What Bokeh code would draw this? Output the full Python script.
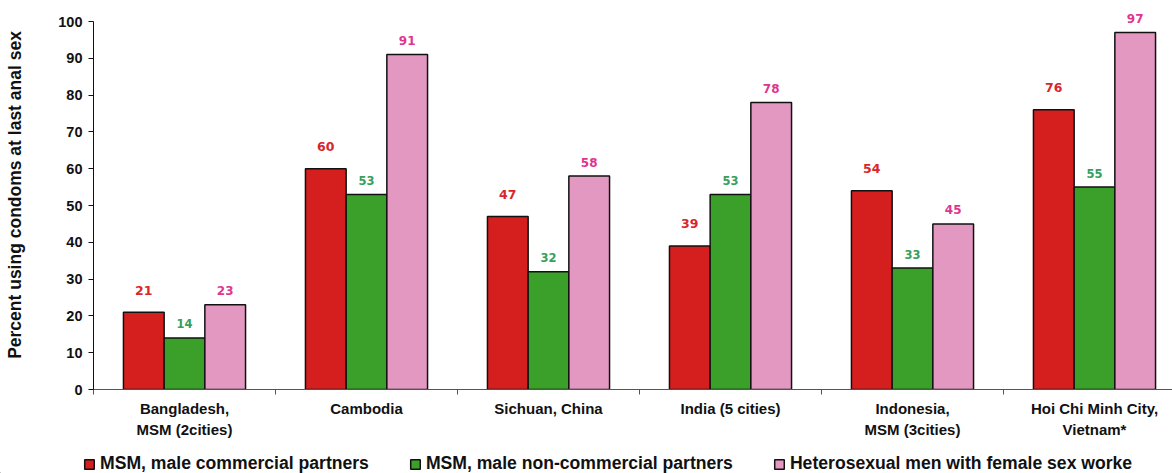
from bokeh.plotting import figure
from bokeh.layouts import column
from bokeh.models import Range1d, FixedTicker, Legend, LegendItem, ColumnDataSource
from bokeh.core.properties import value
from bokeh.embed import file_html
from bokeh.resources import INLINE

# Survey sites and condom-use percentages by partner type
categories = [
    "Bangladesh,\nMSM (2cities)",
    "Cambodia",
    "Sichuan, China",
    "India (5 cities)",
    "Indonesia,\nMSM (3cities)",
    "Hoi Chi Minh City,\nVietnam*",
]
msm_commercial = [21, 60, 47, 39, 54, 76]
msm_noncommercial = [14, 53, 32, 53, 33, 55]
hetero_fsw = [23, 91, 58, 78, 45, 97]
series_names = [
    "MSM, male commercial partners",
    "MSM, male non-commercial partners",
    "Heterosexual men with female sex worke",
]
y_ticks = [0, 10, 20, 30, 40, 50, 60, 70, 80, 90, 100]

fill_colors = ["#d51f1e", "#3aa02a", "#e298c0"]
label_colors = ["#d8262a", "#36a05c", "#df3590"]
label_sizes = ["12.5px", "11.5px", "12px"]
label_offsets = [-22, -14, -14]

W = 1172
chart_h, legend_h = 448, 25
left = 93
frame_bottom = 389
px_per_unit = 368 / 100.0
cat_px = 182.0
x_end = (W - left) / cat_px
y_end = 100 + 21 / px_per_unit

p = figure(
    width=W, height=chart_h, output_backend="svg", toolbar_location=None,
    x_range=Range1d(0, x_end), y_range=Range1d(0, y_end),
    min_border_left=left, min_border_right=0,
    min_border_top=0, min_border_bottom=chart_h - frame_bottom,
)
p.frame_align = False
p.outline_line_color = None
p.xgrid.visible = False
p.ygrid.visible = False
p.background_fill_color = "white"
p.border_fill_color = "white"

bar_w = 40.7 / cat_px
offsets = [-bar_w, 0.0, bar_w]
centers = [i + 0.5 for i in range(len(categories))]

for k, vals in enumerate([msm_commercial, msm_noncommercial, hetero_fsw]):
    src = ColumnDataSource(dict(
        x=[c + offsets[k] for c in centers],
        top=vals,
        lab=[str(v) for v in vals],
    ))
    p.vbar(x="x", top="top", bottom=0, width=bar_w, source=src,
           fill_color=fill_colors[k], line_color="#111111", line_width=1.5)
    p.text(x="x", y="top", text="lab", source=src, y_offset=label_offsets[k],
           text_align="center", text_baseline="middle",
           text_font=value("DejaVu Sans"), text_font_style="bold",
           text_font_size=label_sizes[k], text_color=label_colors[k])

# y axis
yax = p.yaxis[0]
yax.ticker = FixedTicker(ticks=y_ticks)
yax.bounds = (0, 100)
yax.minor_tick_line_color = None
yax.major_tick_in = 0
yax.major_tick_out = 5
yax.major_label_standoff = 6
yax.major_label_text_font = "Liberation Sans"
yax.major_label_text_font_style = "bold"
yax.major_label_text_font_size = "14.5px"
yax.major_label_text_color = "#111111"
yax.axis_line_color = "#111111"
yax.major_tick_line_color = "#111111"
yax.axis_label = "Percent using condoms at last anal sex"
yax.axis_label_text_font = "Liberation Sans"
yax.axis_label_text_font_style = "bold"
yax.axis_label_text_font_size = "17.5px"
yax.axis_label_text_color = "#111111"
yax.axis_label_standoff = 30

# x axis: labels centred on groups, separator ticks between groups
xax = p.xaxis[0]
xax.ticker = FixedTicker(ticks=centers, minor_ticks=list(range(len(categories) + 1)))
xax.major_label_overrides = {c: name for c, name in zip(centers, categories)}
xax.major_tick_line_color = None
xax.minor_tick_in = 0
xax.minor_tick_out = 5
xax.minor_tick_line_color = "#555555"
xax.axis_line_color = "#555555"
xax.major_label_standoff = 4
xax.major_label_text_font = "Liberation Sans"
xax.major_label_text_font_style = "bold"
xax.major_label_text_font_size = "15px"
xax.major_label_text_color = "#111111"
xax.major_label_text_line_height = 1.27

# legend strip underneath the chart; swatch renderers sit outside its view
lg = figure(
    width=W, height=legend_h, output_backend="svg", toolbar_location=None,
    x_axis_location=None, y_axis_location=None,
    x_range=Range1d(0, 1), y_range=Range1d(0, 1),
    min_border_left=0, min_border_right=0, min_border_top=0, min_border_bottom=0,
)
lg.frame_align = False
lg.outline_line_color = None
lg.xgrid.visible = False
lg.ygrid.visible = False
swatches = [
    lg.vbar(x=[-5], top=[-5], bottom=[-6], width=0.1, fill_color=c,
            line_color="#111111", line_width=1.5)
    for c in fill_colors
]
legend = Legend(
    items=[LegendItem(label=n, renderers=[r]) for n, r in zip(series_names, swatches)],
    orientation="horizontal", location=(83, -1),
    glyph_width=12, glyph_height=12, label_standoff=5, spacing=40,
    padding=0, margin=0, border_line_color=None, background_fill_alpha=0,
    label_text_font="Liberation Sans", label_text_font_style="bold",
    label_text_font_size="17.6px", label_text_color="#111111",
    label_height=18,
)
lg.add_layout(legend, "center")

layout = column(p, lg, spacing=0)
open("out.html", "w").write(file_html(layout, INLINE))
